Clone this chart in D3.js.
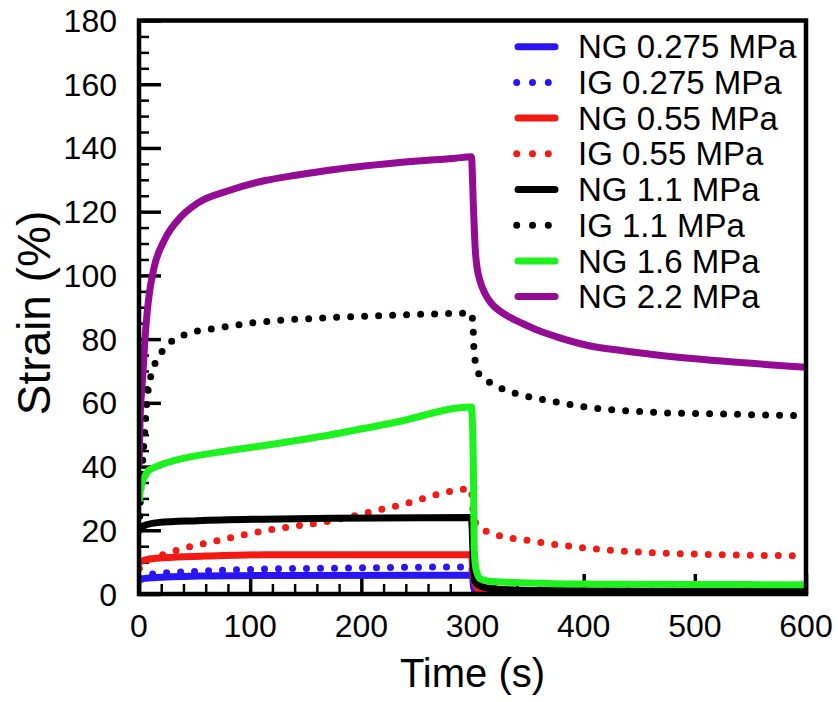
<!DOCTYPE html>
<html>
<head>
<meta charset="utf-8">
<script src="https://cdn.jsdelivr.net/npm/d3@7"></script>
<style>
  body { margin: 0; background: #fff; }
  text { font-family: "Liberation Sans", Arial, Helvetica, sans-serif; fill: #000; }
</style>
</head>
<body>
<div id="chart"></div>
<script>
// series: [time (s), strain (%)]
var ng0275 = [[0.3,4.4],[5,4.9],[40,5.5],[120,5.8],[300,5.9],[301,2],[305,0.8],[350,0.5],[600,0.4]];
var ig0275 = [[0.3,5],[10,6.2],[50,7.1],[112,7.8],[200,8.2],[299,8.5],[301,3],[305,1.2],[350,0.8],[600,0.6]];
var ng055 = [[0.3,10],[5,10.6],[22.7,11.4],[60,11.9],[112,12.3],[299,12.3],[301,5],[305,1.5],[320,0.8],[600,0.5]];
var ig055 = [[0.3,8],[5,10],[22.7,12.5],[37.7,14.1],[67.6,16.5],[97.6,18.8],[112.6,19.8],[172.5,23],[232.4,27.7],[299,33],[300.5,26],[302,23],[307,20.9],[320,18.8],[352,16.7],[412,14.1],[502,12.5],[600,12]];
var ng11 = [[0.3,20],[2,21],[5,21.5],[16.8,22.4],[52.7,23],[112,23.5],[172.5,23.8],[299,24],[300.8,10],[302,4],[307,2.5],[320,1.6],[360,1.1],[450,0.9],[600,0.8]];
var ig11 = [[0.3,20],[1,28],[3,40],[5,50],[7,60],[10.8,68.6],[15,72.8],[22.7,77],[43.7,81.7],[67.6,83.3],[97.6,84.9],[127.5,85.9],[169.5,86.7],[230,87.5],[299,88.1],[300.5,83.8],[301.5,75.4],[305.7,69.1],[315,66.5],[323.6,64.9],[340,62.8],[359.6,61.3],[404.5,58.6],[464.4,57],[524.3,56.5],[600,55.9]];
var ng16 = [[0.3,29],[1,32],[2,34],[3.3,35.5],[4.8,36.6],[8,38.5],[13.7,39.7],[25,41.2],[37.7,42.4],[67.6,44.3],[112.6,46.6],[172.5,50],[232,54],[299,58.7],[300.8,40],[301.5,15],[303,8],[307,4.8],[315,4],[337,3.6],[400,3.1],[500,3],[600,2.9]];
var ng22 = [[0,40],[1,55],[2,62],[3.3,68],[5,78],[7.8,90],[10,96],[13.7,102.7],[22.7,111],[37.7,118.4],[52.7,122.7],[82.6,126.8],[112.6,129.7],[142.5,131.5],[172.5,133.1],[230,135.3],[284.7,136.8],[299,137.2],[301,120],[302.5,108],[304,102.7],[307,98],[311,94.5],[316,91.6],[325,88.7],[335,86.6],[345,84.9],[360,82.6],[375,80.8],[404,78],[434,76.4],[464,75.1],[524,73.1],[600,71.2]];

var seriesNames = ["NG 0.275 MPa", "IG 0.275 MPa", "NG 0.55 MPa", "IG 0.55 MPa", "NG 1.1 MPa", "IG 1.1 MPa", "NG 1.6 MPa", "NG 2.2 MPa"];
var seriesData = [ng0275, ig0275, ng055, ig055, ng11, ig11, ng16, ng22];
var seriesColors = ["#2a16f5", "#2a16f5", "#f21a12", "#f21a12", "#000000", "#000000", "#1ef21e", "#930c93"];
var seriesDotted = [false, true, false, true, false, true, false, false];

var xTicks = [0, 100, 200, 300, 400, 500, 600];
var yTicks = [0, 20, 40, 60, 80, 100, 120, 140, 160, 180];

var width = 838, height = 702;
var plotLeft = 139, plotRight = 806, plotTop = 20.5, plotBottom = 594;

var svg = d3.select("#chart").append("svg")
    .attr("width", width)
    .attr("height", height);

var x = d3.scaleLinear().domain([0, 600]).range([plotLeft, plotRight]);
var y = d3.scaleLinear().domain([0, 180]).range([plotBottom, plotTop]);

svg.append("defs").append("clipPath").attr("id", "clip")
  .append("rect")
    .attr("x", plotLeft).attr("y", plotTop)
    .attr("width", plotRight - plotLeft).attr("height", plotBottom - plotTop);

// ticks inside the frame
var xAxis = d3.axisTop(x).tickValues(xTicks).tickSize(20).tickFormat("");
var xMinor = d3.axisTop(x).tickValues(d3.range(20, 600, 20).filter(function(v) { return v % 100 !== 0; })).tickSize(10).tickFormat("");
var yAxis = d3.axisRight(y).tickValues(yTicks).tickSize(22).tickFormat("");
var yMinor = d3.axisRight(y).tickValues(d3.range(5, 180, 5).filter(function(v) { return v % 20 !== 0; })).tickSize(10).tickFormat("");

function styleAxis(g, w) {
  g.select(".domain").remove();
  g.selectAll("line").attr("stroke", "#000").attr("stroke-width", w);
}
svg.append("g").attr("transform", "translate(0," + plotBottom + ")").call(xAxis).call(styleAxis, 3.5);
svg.append("g").attr("transform", "translate(0," + plotBottom + ")").call(xMinor).call(styleAxis, 2.5);
svg.append("g").attr("transform", "translate(" + plotLeft + ",0)").call(yAxis).call(styleAxis, 3.5);
svg.append("g").attr("transform", "translate(" + plotLeft + ",0)").call(yMinor).call(styleAxis, 2.5);

// tick labels
svg.append("g").selectAll("text").data(xTicks).enter().append("text")
    .attr("x", function(d) { return x(d); })
    .attr("y", 637)
    .attr("text-anchor", "middle")
    .style("font-size", "32px")
    .text(function(d) { return d; });

svg.append("g").selectAll("text").data(yTicks).enter().append("text")
    .attr("x", 117)
    .attr("y", function(d) { return y(d) + 11.5; })
    .attr("text-anchor", "end")
    .style("font-size", "32px")
    .text(function(d) { return d; });

// curves
var line = d3.line()
    .x(function(d) { return x(d[0]); })
    .y(function(d) { return y(d[1]); })
    .curve(d3.curveMonotoneX);

var plot = svg.append("g").attr("clip-path", "url(#clip)");
seriesData.forEach(function(data, i) {
  plot.append("path")
      .attr("d", line(data))
      .attr("fill", "none")
      .attr("stroke", seriesColors[i])
      .attr("stroke-width", 7)
      .attr("stroke-linecap", seriesDotted[i] ? "round" : "butt")
      .attr("stroke-linejoin", "round")
      .attr("stroke-dasharray", seriesDotted[i] ? "0 14" : null);
});

// frame
svg.append("rect")
    .attr("x", plotLeft).attr("y", plotTop)
    .attr("width", plotRight - plotLeft).attr("height", plotBottom - plotTop)
    .attr("fill", "none")
    .attr("stroke", "#000")
    .attr("stroke-width", 4.5);

// legend
var legend = svg.append("g");
seriesNames.forEach(function(name, i) {
  var base = 58.3 + i * 35.7;
  legend.append("line")
      .attr("x1", seriesDotted[i] ? 516.7 : 518)
      .attr("x2", seriesDotted[i] ? 548.6 : 555)
      .attr("y1", base - 11.6).attr("y2", base - 11.6)
      .attr("stroke", seriesColors[i])
      .attr("stroke-width", 7)
      .attr("stroke-linecap", "round")
      .attr("stroke-dasharray", seriesDotted[i] ? "0 15.8" : null);
  legend.append("text")
      .attr("x", 578)
      .attr("y", base)
      .style("font-size", "33px")
      .text(name);
});

// axis titles
svg.append("text")
    .attr("x", x(300))
    .attr("y", 687)
    .attr("text-anchor", "middle")
    .style("font-size", "40px")
    .text("Time (s)");

svg.append("text")
    .attr("transform", "translate(50,313) rotate(-90)")
    .attr("text-anchor", "middle")
    .style("font-size", "46px")
    .text("Strain (%)");
</script>
</body>
</html>
